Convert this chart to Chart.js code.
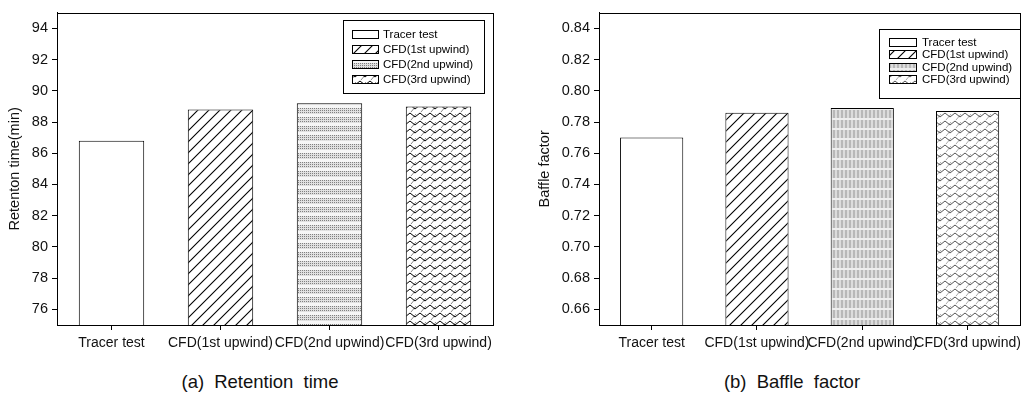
<!DOCTYPE html>
<html>
<head>
<meta charset="utf-8">
<script src="https://cdn.jsdelivr.net/npm/chart.js@4/dist/chart.umd.min.js"></script>
<style>
  body { margin: 0; background: #fff; width: 1026px; height: 399px; position: relative; overflow: hidden; font-family: "Liberation Sans", Arial, sans-serif; }
  #chartA { position: absolute; left: 0; top: 0; }
  #chartB { position: absolute; left: 505px; top: 0; }
  .caption { position: absolute; top: 371px; width: 240px; text-align: center; font-size: 18.5px; line-height: 22px; word-spacing: 5px; color: #111; }
</style>
</head>
<body>
<canvas id="chartA" width="500" height="360"></canvas>
<canvas id="chartB" width="521" height="360"></canvas>
<div class="caption" style="left:140px">(a) Retention time</div>
<div class="caption" style="left:672px">(b) Baffle factor</div>
<script>
// chart data
const categories = ['Tracer test', 'CFD(1st upwind)', 'CFD(2nd upwind)', 'CFD(3rd upwind)'];
const retentionTime = [86.8, 88.8, 89.2, 89.0];
const baffleFactor = [0.770, 0.786, 0.789, 0.787];
const retentionTicks = [76, 78, 80, 82, 84, 86, 88, 90, 92, 94];
const baffleTicks = [0.66, 0.68, 0.70, 0.72, 0.74, 0.76, 0.78, 0.80, 0.82, 0.84];

const FONT = '"Liberation Sans", Arial, sans-serif';

// small tile patterns for the bar fills
function makePattern(w, h, draw) {
    const c = document.createElement('canvas');
    c.width = w;
    c.height = h;
    const g = c.getContext('2d');
    g.fillStyle = '#fff';
    g.fillRect(0, 0, w, h);
    draw(g);
    return g.createPattern(c, 'repeat');
}

const hatch = makePattern(11, 11, g => {
    g.strokeStyle = '#000';
    g.lineWidth = 1.1;
    g.beginPath();
    g.moveTo(0, 11); g.lineTo(11, 0);
    g.moveTo(-1, 1); g.lineTo(1, -1);
    g.moveTo(10, 12); g.lineTo(12, 10);
    g.stroke();
});

const dotsA = makePattern(4, 9, g => {
    g.fillStyle = '#e0e0e0';
    g.fillRect(0, 0, 4, 6);
    g.fillStyle = '#808080';
    for (let y = 0; y < 6; y += 2) {
        g.fillRect(0, y, 1, 1);
        g.fillRect(2, y, 1, 1);
    }
    g.fillStyle = '#f6f6f6';
    g.fillRect(0, 6, 4, 3);
});

const stripesB = makePattern(4, 10, g => {
    g.fillStyle = '#b8b8b8';
    g.fillRect(0, 0, 2, 8);
    g.fillStyle = '#dcdcdc';
    g.fillRect(2, 0, 2, 8);
    g.fillStyle = '#eeeeee';
    g.fillRect(0, 8, 4, 2);
});

function zigzag(color, light) {
    return makePattern(10, 8, g => {
        g.strokeStyle = light;
        g.lineWidth = 1;
        g.beginPath();
        g.moveTo(1, 8); g.lineTo(6, 2);
        g.stroke();
        g.strokeStyle = color;
        g.beginPath();
        g.moveTo(0, 1); g.lineTo(5, 5); g.lineTo(10, 1);
        g.stroke();
    });
}

const fillsA = ['#ffffff', hatch, dotsA, zigzag('#000', '#888')];
const fillsB = ['#ffffff', hatch, stripesB, zigzag('#555', '#aaa')];

// legend drawn as a framed box inside the plot
const boxLegend = {
    id: 'boxLegend',
    afterDraw(chart, args, opts) {
        const ctx = chart.ctx;
        const area = chart.chartArea;
        const x = Math.round(area.right - opts.right - opts.width);
        const y = Math.round(area.top + opts.top);
        const fills = chart.data.datasets[0].backgroundColor;
        ctx.save();
        ctx.fillStyle = '#fff';
        ctx.fillRect(x, y, opts.width, opts.height);
        ctx.strokeStyle = '#000';
        ctx.lineWidth = 1;
        ctx.strokeRect(x + 0.5, y + 0.5, opts.width, opts.height);
        ctx.font = '11.5px ' + FONT;
        ctx.textBaseline = 'middle';
        chart.data.labels.forEach((name, i) => {
            const cy = Math.round(y + opts.rowStart + i * opts.rowGap);
            ctx.fillStyle = fills[i];
            ctx.fillRect(x + opts.swatchX, cy - 4, opts.swatchW, 8);
            ctx.strokeRect(x + opts.swatchX + 0.5, cy - 3.5, opts.swatchW, 8);
            ctx.fillStyle = '#000';
            ctx.fillText(name, x + opts.textX, cy + 0.5);
        });
        ctx.restore();
    }
};

// frame around the plot area
const plotFrame = {
    id: 'plotFrame',
    afterDatasetsDraw(chart) {
        const { ctx, chartArea: a } = chart;
        ctx.save();
        ctx.strokeStyle = '#000';
        ctx.lineWidth = 1;
        ctx.strokeRect(Math.round(a.left) + 0.5, Math.round(a.top) + 0.5,
            Math.round(a.right - a.left), Math.round(a.bottom - a.top));
        ctx.restore();
    }
};

function makeChart(id, values, ticks, fills, opts) {
    return new Chart(document.getElementById(id), {
        type: 'bar',
        data: {
            labels: categories,
            datasets: [{
                data: values,
                backgroundColor: fills,
                borderColor: '#000',
                borderWidth: 1,
                barPercentage: 0.6,
                categoryPercentage: 1
            }]
        },
        options: {
            responsive: false,
            animation: false,
            layout: { padding: { top: 5, right: opts.padRight, left: 0, bottom: 0 } },
            plugins: {
                legend: { display: false },
                tooltip: { enabled: false },
                boxLegend: opts.legend
            },
            scales: {
                x: {
                    grid: { display: true, drawOnChartArea: false, offset: false, tickLength: 5, tickColor: '#000' },
                    border: { display: true, color: '#000' },
                    ticks: { color: '#111', font: { family: FONT, size: 14 }, padding: 5, maxRotation: 0, autoSkip: false },
                    afterFit: s => { s.height = 35; }
                },
                y: {
                    min: opts.min,
                    max: opts.max,
                    afterBuildTicks: s => { s.ticks = ticks.map(v => ({ value: v })); },
                    grid: { display: true, drawOnChartArea: false, tickLength: 5, tickColor: '#000' },
                    border: { display: true, color: '#000' },
                    ticks: { color: '#111', font: { family: FONT, size: 14.5 }, padding: 4, callback: opts.format },
                    title: { display: true, text: opts.title, color: '#111', font: { family: FONT, size: 14.5 }, padding: { top: opts.titlePad, bottom: 0 } },
                    afterFit: s => { s.width = opts.axisWidth; }
                }
            }
        },
        plugins: [plotFrame, boxLegend]
    });
}

makeChart('chartA', retentionTime, retentionTicks, fillsA, {
    min: 75, max: 95, padRight: 7, axisWidth: 57, titlePad: 6,
    title: 'Retenton time(min)',
    format: v => String(v),
    legend: { right: 9, top: 7, width: 141, height: 73, rowStart: 14, rowGap: 15, swatchX: 9, swatchW: 26, textX: 40 }
});

makeChart('chartB', baffleFactor, baffleTicks, fillsB, {
    min: 0.65, max: 0.85, padRight: 1, axisWidth: 94, titlePad: 31,
    title: 'Baffle factor',
    format: v => Number(v).toFixed(2),
    legend: { right: 0, top: 16, width: 141, height: 69, rowStart: 13, rowGap: 12.3, swatchX: 10, swatchW: 27, textX: 43 }
});
</script>
</body>
</html>
